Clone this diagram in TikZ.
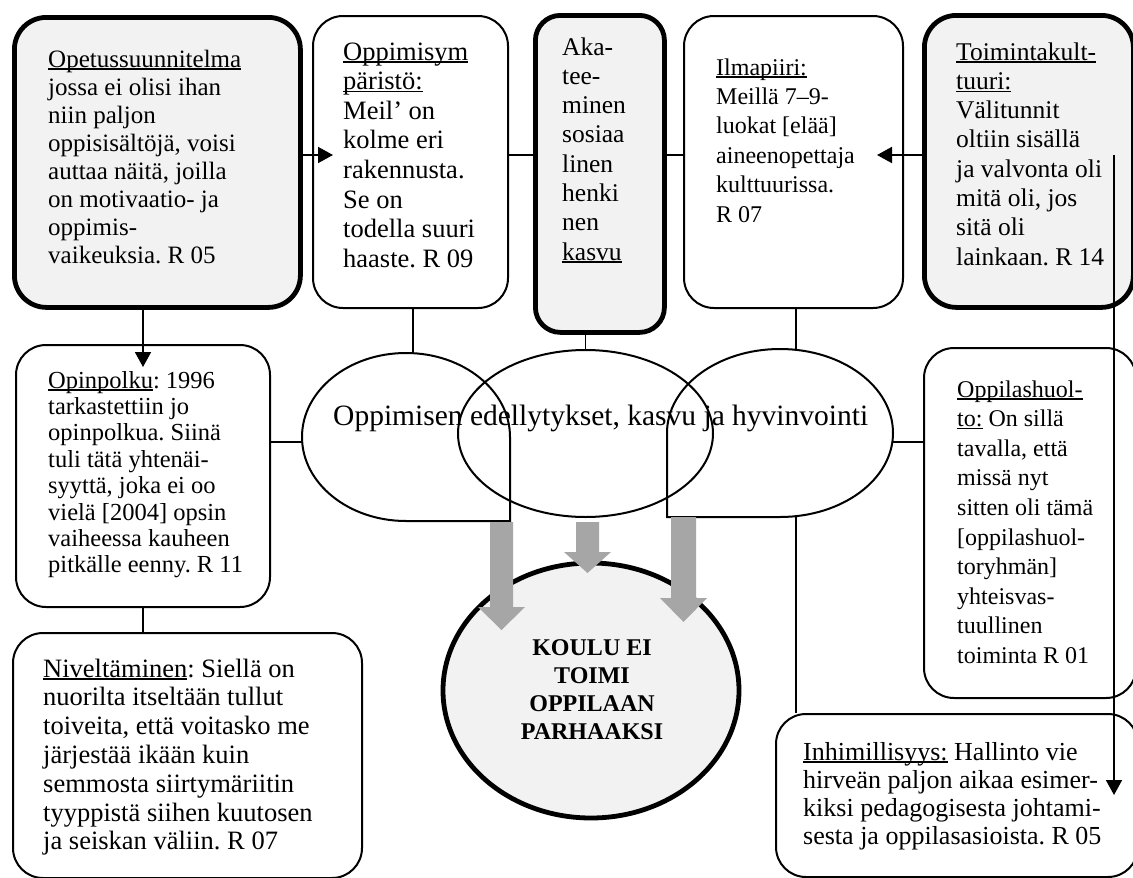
\documentclass[tikz,border=0pt]{standalone}
\usepackage{fontspec}
\setmainfont{Liberation Serif}
\usetikzlibrary{calc,arrows.meta,shapes.geometric}
\definecolor{boxgray}{HTML}{F2F2F2}
\definecolor{arrowgray}{HTML}{A6A6A6}
\tikzset{
  thinbox/.style={draw, line width=2pt, rounded corners=30pt, fill=white, inner sep=0pt, anchor=north west},
  thickbox/.style={draw, line width=4.8pt, rounded corners=32pt, fill=boxgray, inner sep=0pt, anchor=north west},
  link/.style={line width=1.8pt},
  arr/.style={line width=1.8pt, -{Triangle[length=15pt,width=16pt]}},
  body/.style={anchor=base west, inner sep=0pt},
  outline/.style={draw, line width=2pt},
  bigarrow/.style={fill=arrowgray, draw=none},
}
\frenchspacing
% text block: font size, line distance, lines
\newcommand{\lines}[3]{\fontsize{#1}{#2}\selectfont\parbox[t]{12cm}{\raggedright #3}}
% underline set just below the baseline
\newcommand{\ul}[1]{\leavevmode\setbox0\hbox{#1}\rlap{\rule[-2.6pt]{\wd0}{1.3pt}}\box0\relax}
\begin{document}
\begin{tikzpicture}[x=1pt,y=1pt]
\useasboundingbox (0,0) rectangle (1133,-878);
\fill[white] (0,0) rectangle (1133,-878);

% boxes
\node[thickbox, minimum width=286pt, minimum height=290pt] (b1) at (12,-15) {};
\node[thinbox, minimum width=195pt, minimum height=292pt] (b2) at (312,-15) {};
\node[thickbox, rounded corners=25pt, minimum width=129pt, minimum height=317pt] (b3) at (533,-13) {};
\node[thinbox, minimum width=219pt, minimum height=292pt] (b4) at (683,-15) {};
\node[thickbox, minimum width=209pt, minimum height=292pt] (b5) at (922,-13) {};
\node[thinbox, minimum width=254pt, minimum height=262pt] (opin) at (15,-344) {};
\node[thinbox, minimum width=349pt, minimum height=245pt] (nivel) at (12,-632) {};
\node[thinbox, minimum width=212pt, minimum height=350pt] (huolto) at (923,-347) {};
\node[thinbox, minimum width=362pt, minimum height=163pt] (inhim) at (775,-713) {};

% central shapes
\node[outline, ellipse, minimum width=255pt, minimum height=167pt, inner sep=0pt] (mid) at (585.5,-433.5) {};
\draw[outline] (510,-437) arc[start angle=0, end angle=270, x radius=104, y radius=84] -- (510,-521) -- cycle;
\draw[outline] (780,-517) arc[start angle=-90, end angle=180, x radius=113, y radius=84] -- (667,-517) -- cycle;
\coordinate (lsW) at (302.2,-442);
\coordinate (lsN) at (413,-353.2);
\coordinate (rsN) at (796,-349.8);
\coordinate (rsE) at (892.4,-442);
\coordinate (rsS) at (796,-517);
\coordinate (rowy) at (0,-155);
\coordinate (drop) at (1114,-155);

% connectors
\draw[arr] (b1.east |- rowy) -- ($(b2.west |- rowy)+(21,0)$);
\draw[link] (b2.east |- rowy) -- (b3.west |- rowy);
\draw[link] (b3.east |- rowy) -- (b4.west |- rowy);
\draw[arr] (b5.west |- rowy) -- ($(b4.east |- rowy)+(-27,0)$);
\draw[arr] (opin.north |- b1.south) -- ($(opin.north)+(0,-23)$);
\draw[link] (opin.south -| opin.north) -- (opin.north |- nivel.north);
\draw[link] (opin.east |- lsW) -- (lsW);
\draw[link] (lsN |- b2.south) -- (lsN);
\draw[link] (mid.north |- b3.south) -- (mid.north);
\draw[link] (rsN |- b4.south) -- (rsN);
\draw[link] (rsE) -- (rsE -| huolto.west);
\draw[link] (rsS) -- (rsS |- inhim.north);

% result
\node[draw, ellipse, line width=4.8pt, fill=boxgray, minimum width=296pt, minimum height=255pt, inner sep=0pt] (koulu) at (591,-690.5) {};
\fill[bigarrow] (490,-522) -- (513,-522) -- (513,-607) -- (525,-607) -- (501.5,-630) -- (478,-607) -- (490,-607) -- cycle;
\fill[bigarrow] (576,-522) -- (599,-522) -- (599,-552) -- (611,-552) -- (587.5,-573) -- (564,-552) -- (576,-552) -- cycle;
\fill[bigarrow] (671,-517) -- (696,-517) -- (696,-598) -- (707,-598) -- (683.5,-622) -- (660,-598) -- (671,-598) -- cycle;

% texts
\node[body] (t1) at (48,-67) {\lines{25}{28}{\ul{Opetussuunnitelma}\\jossa ei olisi ihan\\niin paljon\\oppisisältöjä, voisi\\auttaa näitä, joilla\\on motivaatio- ja\\oppimis-\\vaikeuksia. R 05}};
\node[body] (t2) at (343,-60) {\lines{26.5}{29.6}{\ul{Oppimisym}\\\ul{päristö:}\\Meil’ on\\kolme eri\\rakennusta.\\Se on\\todella suuri\\haaste. R 09}};
\node[body] (t3) at (562,-55) {\lines{25.5}{29.3}{Aka-\\tee-\\minen\\sosiaa\\linen\\henki\\nen\\\ul{kasvu}}};
\node[body] (t4) at (716,-75) {\lines{24}{29.4}{\ul{Ilmapiiri:}\\Meillä 7–9-\\luokat [elää]\\aineenopettaja\\kulttuurissa.\\R 07}};
\node[body] (t5) at (956,-60) {\lines{25.5}{29.3}{\ul{Toimintakult-}\\\ul{tuuri:}\\Välitunnit\\oltiin sisällä\\ja valvonta oli\\mitä oli, jos\\sitä oli\\lainkaan. R 14}};
\node[body] (t6) at (48,-388) {\lines{24.5}{26.4}{\ul{Opinpolku}: 1996\\tarkastettiin jo\\opinpolkua. Siinä\\tuli tätä yhtenäi-\\syyttä, joka ei oo\\vielä [2004] opsin\\vaiheessa kauheen\\pitkälle eenny. R 11}};
\node[body] (t7) at (43,-677) {\lines{26.5}{28.8}{\ul{Niveltäminen}: Siellä on\\nuorilta itseltään tullut\\toiveita, että voitasko me\\järjestää ikään kuin\\semmosta siirtymäriitin\\tyyppistä siihen kuutosen\\ja seiskan väliin. R 07}};
\node[body] (t8) at (957,-397) {\lines{24}{29.6}{\ul{Oppilashuol-}\\\ul{to:} On sillä\\tavalla, että\\missä nyt\\sitten oli tämä\\{}[oppilashuol-\\toryhmän]\\yhteisvas-\\tuullinen\\toiminta R 01}};
\node[body] (t9) at (803,-760) {\lines{26}{28}{\ul{Inhimillisyys:} Hallinto vie\\hirveän paljon aikaa esimer-\\kiksi pedagogisesta johtami-\\sesta ja oppilasasioista. R 05}};
\node[body] (theme) at (333,-425) {\fontsize{29.5}{34}\selectfont Oppimisen edellytykset, kasvu ja hyvinvointi};
\node[anchor=base, inner sep=0pt] (kt) at (592,-655) {\fontsize{24}{28.3}\selectfont\parbox[t]{8cm}{\centering\bfseries KOULU EI\\TOIMI\\OPPILAAN\\PARHAAKSI}};

% long arrow down the right side
\draw[arr] (drop) -- ($(drop |- inhim.north)+(0,-82)$);
\end{tikzpicture}
\end{document}
